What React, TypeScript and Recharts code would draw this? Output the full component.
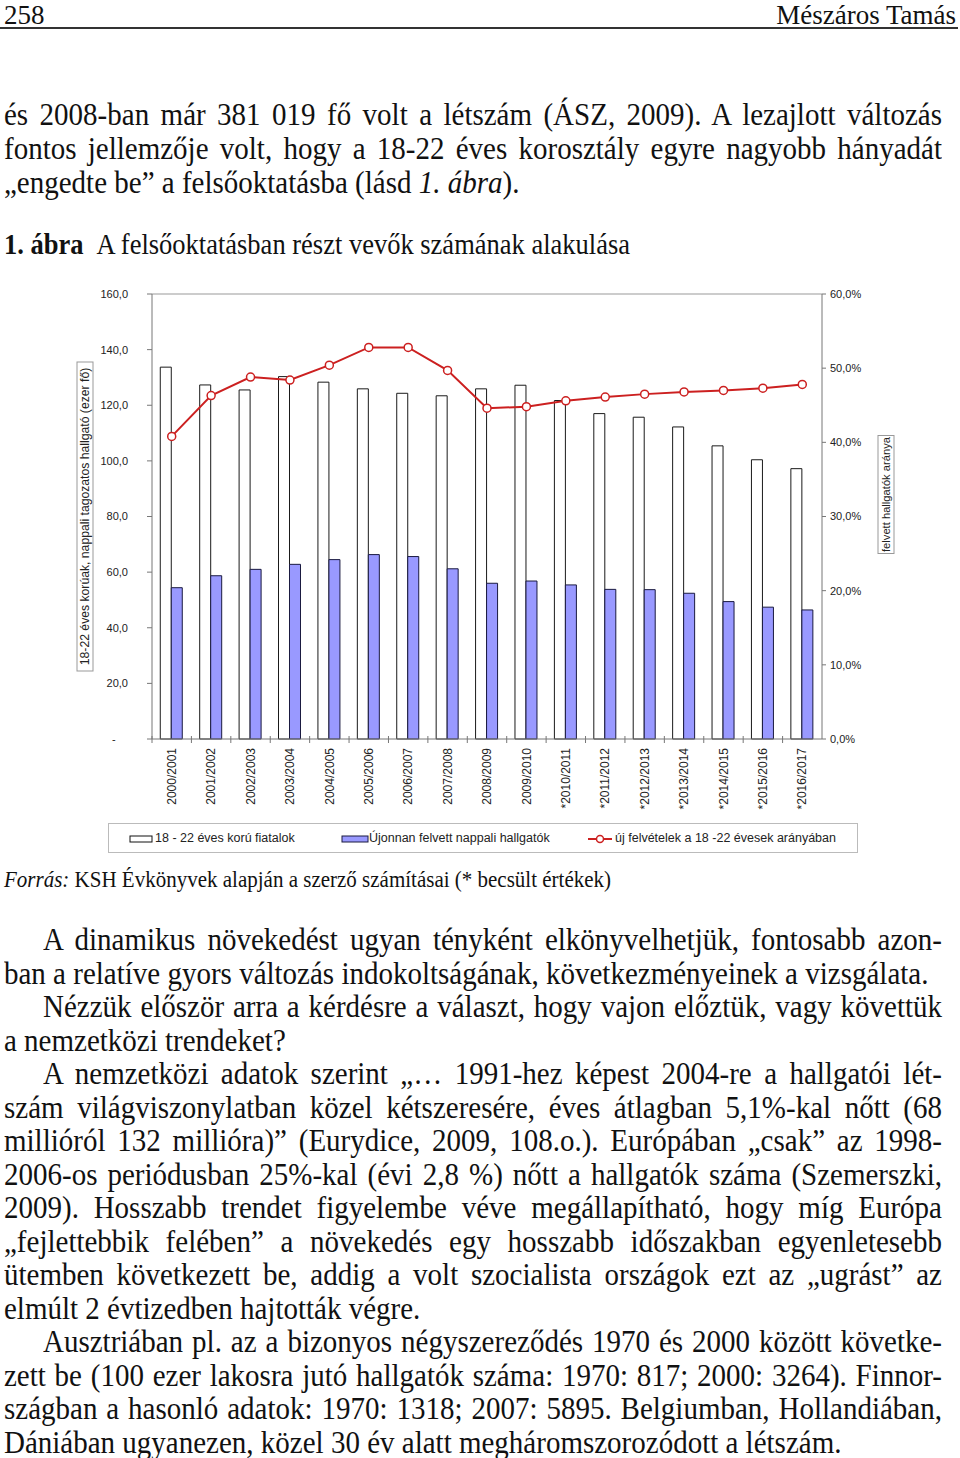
import React from "react";
import { ComposedChart, Bar, Line, XAxis, YAxis, ReferenceLine } from "recharts";

// chart data
const YEARS = [
  "2000/2001", "2001/2002", "2002/2003", "2003/2004", "2004/2005", "2005/2006",
  "2006/2007", "2007/2008", "2008/2009", "2009/2010", "*2010/2011", "*2011/2012",
  "*2012/2013", "*2013/2014", "*2014/2015", "*2015/2016", "*2016/2017",
];
const AGE_18_22 = [133.7, 127.3, 125.5, 130.3, 128.3, 125.9, 124.3, 123.4, 125.9, 127.2, 121.7, 117.0, 115.7, 112.2, 105.4, 100.4, 97.2];
const ADMITTED = [54.4, 58.7, 61.0, 62.8, 64.5, 66.3, 65.6, 61.2, 56.0, 56.8, 55.4, 53.8, 53.7, 52.4, 49.4, 47.4, 46.4];
const RATIO = [40.8, 46.3, 48.8, 48.4, 50.4, 52.8, 52.8, 49.7, 44.6, 44.8, 45.6, 46.1, 46.5, 46.8, 47.0, 47.3, 47.8];
const LEFT_TICKS = [0, 20, 40, 60, 80, 100, 120, 140, 160];
const RIGHT_TICKS = [0, 10, 20, 30, 40, 50, 60];

const data = YEARS.map((y, i) => ({ year: y, pop: AGE_18_22[i], adm: ADMITTED[i], ratio: RATIO[i] }));

const PLOT_LEFT = 152;
const PLOT_RIGHT = 822;
const BAND = (PLOT_RIGHT - PLOT_LEFT) / YEARS.length;
const SANS = "'Liberation Sans', Arial, sans-serif";
const SERIF = "'Liberation Serif', 'Times New Roman', serif";
const RED = "#cc2020";
const BLUE = "#9999ff";

const PARA1 = [
  "és 2008-ban már 381 019 fő volt a létszám (ÁSZ, 2009). A lezajlott változás",
  "fontos jellemzője volt, hogy a 18-22 éves korosztály egyre nagyobb hányadát",
];

const BODY: { text: string; indent?: boolean; last?: boolean }[] = [
  { text: "A dinamikus növekedést ugyan tényként elkönyvelhetjük, fontosabb azon-", indent: true },
  { text: "ban a relatíve gyors változás indokoltságának, következményeinek a vizsgálata.", last: true },
  { text: "Nézzük először arra a kérdésre a választ, hogy vajon előztük, vagy követtük", indent: true },
  { text: "a nemzetközi trendeket?", last: true },
  { text: "A nemzetközi adatok szerint „… 1991-hez képest 2004-re a hallgatói lét-", indent: true },
  { text: "szám világviszonylatban közel kétszeresére, éves átlagban 5,1%-kal nőtt (68" },
  { text: "millióról 132 millióra)” (Eurydice, 2009, 108.o.). Európában „csak” az 1998-" },
  { text: "2006-os periódusban 25%-kal (évi 2,8 %) nőtt a hallgatók száma (Szemerszki," },
  { text: "2009). Hosszabb trendet figyelembe véve megállapítható, hogy míg Európa" },
  { text: "„fejlettebbik felében” a növekedés egy hosszabb időszakban egyenletesebb" },
  { text: "ütemben következett be, addig a volt szocialista országok ezt az „ugrást” az" },
  { text: "elmúlt 2 évtizedben hajtották végre.", last: true },
  { text: "Ausztriában pl. az a bizonyos négyszereződés 1970 és 2000 között követke-", indent: true },
  { text: "zett be (100 ezer lakosra jutó hallgatók száma: 1970: 817; 2000: 3264). Finnor-" },
  { text: "szágban a hasonló adatok: 1970: 1318; 2007: 5895. Belgiumban, Hollandiában," },
  { text: "Dániában ugyanezen, közel 30 év alatt megháromszorozódott a létszám.", last: true },
];

const fmtLeft = (v: number) => (v === 0 ? "-\u00a0\u00a0\u00a0\u00a0" : v.toFixed(1).replace(".", ","));
const fmtRight = (v: number) => v.toFixed(1).replace(".", ",") + "%";

function XTick({ x, y, payload }: any) {
  return (
    <g>
      <line x1={x - BAND / 2} x2={x - BAND / 2} y1={y - 3} y2={y + 4} stroke="#777" />
      <text
        transform={`translate(${x},${y + 9}) rotate(-90)`}
        textAnchor="end"
        dy="0.35em"
        fontSize={12}
        fontFamily={SANS}
        fill="#222"
      >
        {payload.value}
      </text>
    </g>
  );
}

function AxisTitle({ viewBox, text, dx, dy = 0, len, size }: any) {
  const cx = viewBox.x + dx;
  const cy = viewBox.y + viewBox.height / 2 + dy;
  return (
    <g transform={`translate(${cx},${cy}) rotate(-90)`}>
      <rect x={-len / 2} y={-8} width={len} height={16} fill="#fff" stroke="#999" />
      <text x={0} y={0} dy="0.35em" textAnchor="middle" fontSize={size} fontFamily={SANS} fill="#222">
        {text}
      </text>
    </g>
  );
}

const serifText = (size: number): React.CSSProperties => ({
  fontFamily: SERIF,
  fontSize: size,
  lineHeight: "33.5px",
  color: "#111",
  transform: "scaleY(1.1)",
  transformOrigin: "50% 20px",
});

function TextLine({ text, top, left = 4, last = false }: any) {
  return (
    <div
      style={{
        ...serifText(29),
        position: "absolute",
        top,
        left,
        width: 942 - left,
        textAlign: "justify",
        textAlignLast: last ? "left" : "justify",
      }}
    >
      {text}
    </div>
  );
}

const header: React.CSSProperties = {
  position: "absolute",
  top: 0,
  fontFamily: SERIF,
  fontSize: 27,
  lineHeight: "30px",
  color: "#111",
};

export default function App() {
  return (
    <div style={{ position: "absolute", left: 0, top: 0, width: 960, height: 1458, background: "#fff", overflow: "hidden" }}>
      {/* page header */}
      <div style={{ ...header, left: 4 }}>258</div>
      <div style={{ ...header, right: 4 }}>Mészáros Tamás</div>
      <div style={{ position: "absolute", top: 27, left: 0, width: 958, height: 2, background: "#333" }} />

      <TextLine text={PARA1[0]} top={98} />
      <TextLine text={PARA1[1]} top={132} />
      <div style={{ ...serifText(29), position: "absolute", top: 166, left: 4 }}>
        „engedte be” a felsőoktatásba (lásd <i>1. ábra</i>).
      </div>

      <div style={{ ...serifText(26.5), position: "absolute", top: 228, left: 4 }}>
        <b>1. ábra</b>
        <span style={{ marginLeft: 13 }}>A felsőoktatásban részt vevők számának alakulása</span>
      </div>

      {/* chart */}
      <div style={{ position: "absolute", left: 0, top: 270 }}>
        <ComposedChart
          width={960}
          height={600}
          data={data}
          margin={{ top: 24, right: 58, bottom: 41, left: 70 }}
          barCategoryGap="21%"
          barGap={0}
          style={{ fontFamily: SANS }}
        >
          <XAxis
            dataKey="year"
            interval={0}
            height={90}
            tickSize={0}
            tickMargin={0}
            tickLine={false}
            axisLine={{ stroke: "#777" }}
            tick={<XTick />}
          />
          <YAxis
            yAxisId="left"
            domain={[0, 160]}
            ticks={LEFT_TICKS}
            width={82}
            tickSize={5}
            tickMargin={19}
            tickFormatter={fmtLeft}
            tick={{ fontSize: 11, fill: "#222", fontFamily: SANS }}
            axisLine={{ stroke: "#777" }}
            tickLine={{ stroke: "#777" }}
            label={<AxisTitle text="18-22 éves korúak, nappali tagozatos hallgató (ezer fő)" dx={15} len={309} size={12.2} />}
          />
          <YAxis
            yAxisId="right"
            orientation="right"
            domain={[0, 60]}
            ticks={RIGHT_TICKS}
            width={80}
            tickSize={4}
            tickMargin={4}
            tickFormatter={fmtRight}
            tick={{ fontSize: 11, fill: "#222", fontFamily: SANS }}
            axisLine={{ stroke: "#777" }}
            tickLine={{ stroke: "#777" }}
            label={<AxisTitle text="felvett hallgatók aránya" dx={64} dy={-22} len={118} size={11.2} />}
          />
          <ReferenceLine yAxisId="left" y={160} stroke="#999" />
          <Bar yAxisId="left" dataKey="pop" fill="#fff" stroke="#1a1a1a" strokeWidth={1} isAnimationActive={false} />
          <Bar yAxisId="left" dataKey="adm" fill={BLUE} stroke="#1a1a40" strokeWidth={1} isAnimationActive={false} />
          <Line
            yAxisId="right"
            dataKey="ratio"
            stroke={RED}
            strokeWidth={2}
            dot={{ r: 4, fill: "#fff", stroke: RED, strokeWidth: 1.5 }}
            isAnimationActive={false}
          />
        </ComposedChart>
      </div>

      {/* legend */}
      <div
        style={{
          position: "absolute",
          left: 108,
          top: 823,
          width: 750,
          height: 30,
          border: "1px solid #bbb",
          boxSizing: "border-box",
          fontFamily: SANS,
          fontSize: 12.5,
          color: "#222",
        }}
      >
        <svg width={750} height={30} style={{ position: "absolute", left: -1, top: -1 }}>
          <rect x={22} y={13} width={22} height={6} fill="#fff" stroke="#111" />
          <rect x={234} y={13} width={26} height={6} fill={BLUE} stroke="#1a1a40" />
          <line x1={480} x2={504} y1={16} y2={16} stroke={RED} strokeWidth={2} />
          <circle cx={492} cy={16} r={3.5} fill="#fff" stroke={RED} strokeWidth={1.5} />
        </svg>
        <span style={{ position: "absolute", left: 46, top: 7 }}>18 - 22 éves korú fiatalok</span>
        <span style={{ position: "absolute", left: 260, top: 7 }}>Újonnan felvett nappali hallgatók</span>
        <span style={{ position: "absolute", left: 506, top: 7 }}>új felvételek a 18 -22 évesek arányában</span>
      </div>

      <div
        style={{
          position: "absolute",
          top: 866,
          left: 4,
          fontFamily: SERIF,
          fontSize: 21,
          lineHeight: "26px",
          color: "#111",
          transform: "scaleY(1.1)",
        }}
      >
        <i>Forrás:</i> KSH Évkönyvek alapján a szerző számításai (* becsült értékek)
      </div>

      {BODY.map((l, i) => (
        <TextLine key={i} text={l.text} top={923 + i * 33.53} left={l.indent ? 43 : 4} last={l.last} />
      ))}
    </div>
  );
}
